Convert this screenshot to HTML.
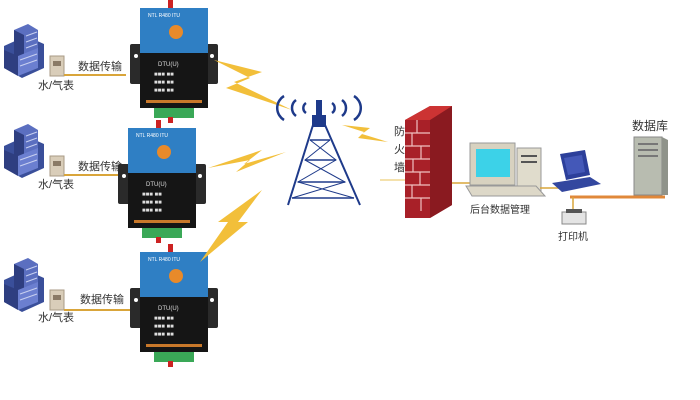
<!DOCTYPE html>
<html><head><meta charset="utf-8"><style>
body{margin:0;background:#fff;}
svg{display:block;font-family:"Liberation Sans","Noto Sans CJK SC",sans-serif;}
</style></head><body>
<svg width="700" height="400" viewBox="0 0 700 400" xmlns="http://www.w3.org/2000/svg">
<defs>
<g id="bld">
 <polygon points="0,18 22,8 40,16 40,40 18,50 0,40" fill="#3a4f9a"/>
 <polygon points="10,2 24,-4 34,2 34,36 20,42 10,36" fill="#5b6fc0"/>
 <polygon points="10,2 20,7 20,42 10,36" fill="#2e3e80"/>
 <polygon points="0,22 14,28 14,48 0,40" fill="#2e3e80"/>
 <polygon points="14,28 34,20 34,40 14,48" fill="#6b7fd0"/>
 <g stroke="#c8d0f0" stroke-width="1"><line x1="22" y1="8" x2="33" y2="4"/><line x1="22" y1="14" x2="33" y2="10"/><line x1="22" y1="20" x2="33" y2="16"/><line x1="16" y1="32" x2="33" y2="26"/><line x1="16" y1="38" x2="33" y2="32"/></g>
 <rect x="46" y="28" width="14" height="20" fill="#d9cdb9" stroke="#a89a85"/>
 <rect x="49" y="33" width="8" height="5" fill="#8a7a66"/>
</g>
<g id="dev">
 <rect x="-10" y="36" width="88" height="40" fill="#2a2a2a" rx="2"/>
 <circle cx="-4" cy="48" r="2" fill="#fff"/><circle cx="72" cy="48" r="2" fill="#fff"/>
 <rect x="28" y="-8" width="5" height="10" fill="#c22"/>
 <rect x="0" y="0" width="68" height="45" fill="#2f7fc4"/>
 <rect x="0" y="45" width="68" height="55" fill="#151515"/>
 <circle cx="36" cy="24" r="7" fill="#e88a2a"/>
 <text x="8" y="9" font-size="5" fill="#fff">NTL R480 ITU</text>
 <g fill="#ddd" font-size="6"><text x="18" y="58">DTU(U)</text><text x="14" y="68">■■■ ■■</text><text x="14" y="76">■■■ ■■</text><text x="14" y="84">■■■ ■■</text></g>
 <rect x="6" y="92" width="56" height="3" fill="#c8782a"/>
 <rect x="14" y="100" width="40" height="10" fill="#3aa857"/>
 <rect x="28" y="109" width="5" height="6" fill="#c22"/>
</g>
</defs>

<use href="#bld" x="4" y="28"/>
<line x1="64" y1="75" x2="126" y2="75" stroke="#d9a53a" stroke-width="2"/>
<text x="78" y="70" font-size="11" fill="#333">数据传输</text>
<text x="38" y="89" font-size="11" fill="#333">水/气表</text>

<use href="#bld" x="4" y="128"/>
<line x1="64" y1="175" x2="120" y2="175" stroke="#d9a53a" stroke-width="2"/>
<text x="78" y="170" font-size="11" fill="#333">数据传输</text>
<text x="38" y="188" font-size="11" fill="#333">水/气表</text>

<use href="#bld" x="4" y="262"/>
<line x1="64" y1="310" x2="130" y2="310" stroke="#d9a53a" stroke-width="2"/>
<text x="80" y="303" font-size="11" fill="#333">数据传输</text>
<text x="38" y="321" font-size="11" fill="#333">水/气表</text>

<use href="#dev" x="140" y="8"/>
<use href="#dev" x="128" y="128"/>
<use href="#dev" x="140" y="252"/>

<!-- bolts -->
<polygon points="214,60 262,72 234,82 292,110 226,88 250,78" fill="#f2bf3a"/>
<polygon points="208,168 262,150 244,164 286,152 236,172 250,160" fill="#f2bf3a"/>
<polygon points="262,190 238,222 248,222 200,262 228,222 218,222" fill="#f2bf3a"/>
<polygon points="342,125 370,128 362,134 388,142 358,138 364,132" fill="#f2bf3a"/>

<!-- tower -->
<g stroke="#1e3a8a" fill="none" stroke-width="2.5">
 <path d="M284,96 a14,14 0 0 0 0,24 M296,100 a10,10 0 0 0 0,16 M306,103 a6,6 0 0 0 0,10"/>
 <path d="M354,96 a14,14 0 0 1 0,24 M342,100 a10,10 0 0 1 0,16 M332,103 a6,6 0 0 1 0,10"/>
</g>
<g stroke="#1e3a8a" fill="none" stroke-width="2">
 <path d="M313,125 L288,205 M325,125 L360,205 M313,125 L325,125"/>
 <path d="M310,140 L330,140 M305,160 L336,160 M298,182 L345,182 M292,198 L354,198" stroke-width="1.5"/>
 <path d="M310,140 L336,160 L298,182 L354,198 M330,140 L305,160 L345,182 L292,198" stroke-width="1"/>
</g>
<rect x="312" y="115" width="14" height="12" fill="#1e3a8a"/>
<rect x="316" y="100" width="6" height="16" fill="#1e3a8a"/>

<!-- firewall -->
<text font-size="11" fill="#333"><tspan x="394" y="135">防</tspan><tspan x="394" y="153">火</tspan><tspan x="394" y="171">墙</tspan></text>
<line x1="380" y1="180" x2="405" y2="180" stroke="#e8c35a" stroke-width="1"/>
<polygon points="405,120 430,106 452,106 452,205 430,218 405,218" fill="#a82028"/>
<polygon points="430,120 452,106 452,205 430,218" fill="#8a1a20"/>
<polygon points="405,120 430,106 452,106 430,120" fill="#c33"/>
<g stroke="#f0c0c0" stroke-width="1.2">
 <line x1="405" y1="133" x2="430" y2="133"/><line x1="405" y1="146" x2="430" y2="146"/><line x1="405" y1="159" x2="430" y2="159"/><line x1="405" y1="172" x2="430" y2="172"/><line x1="405" y1="185" x2="430" y2="185"/><line x1="405" y1="198" x2="430" y2="198"/>
 <line x1="417" y1="120" x2="417" y2="133"/><line x1="412" y1="133" x2="412" y2="146"/><line x1="421" y1="146" x2="421" y2="159"/><line x1="413" y1="159" x2="413" y2="172"/><line x1="420" y1="172" x2="420" y2="185"/><line x1="412" y1="185" x2="412" y2="198"/><line x1="421" y1="198" x2="421" y2="211"/>
</g>
<line x1="452" y1="183" x2="470" y2="183" stroke="#d9a53a" stroke-width="1.5"/>

<rect x="470" y="143" width="45" height="42" fill="#d8d2c0" stroke="#999"/>
<rect x="476" y="149" width="34" height="28" fill="#3cd2e8"/>
<rect x="517" y="148" width="24" height="44" fill="#e0dccc" stroke="#999"/>
<rect x="521" y="155" width="16" height="2" fill="#555"/><rect x="521" y="161" width="16" height="2" fill="#555"/>
<polygon points="466,186 536,186 545,196 472,196" fill="#ddd8c8" stroke="#999"/>
<text x="470" y="213" font-size="10" fill="#333">后台数据管理</text>
<line x1="540" y1="188" x2="560" y2="188" stroke="#d9a53a" stroke-width="1.5"/>

<polygon points="560,154 585,150 590,175 566,180" fill="#2c3f9a"/>
<polygon points="564,158 582,155 585,172 568,175" fill="#4458b8"/>
<polygon points="552,183 590,177 601,184 562,192" fill="#33479f"/>
<line x1="570" y1="197" x2="665" y2="197" stroke="#e0883a" stroke-width="3"/>
<line x1="573" y1="197" x2="573" y2="214" stroke="#d9a53a" stroke-width="1.5"/>
<rect x="562" y="212" width="24" height="12" fill="#e4e4e4" stroke="#888"/>
<rect x="566" y="209" width="16" height="4" fill="#555"/>
<text x="558" y="240" font-size="10" fill="#333">打印机</text>

<text x="632" y="130" font-size="12" fill="#333">数据库</text>
<rect x="634" y="137" width="28" height="58" fill="#b8bcb0" stroke="#888"/>
<polygon points="662,137 668,140 668,195 662,195" fill="#8f938a"/>
<g fill="#777"><rect x="638" y="143" width="20" height="2"/><rect x="638" y="149" width="20" height="2"/><rect x="638" y="155" width="20" height="2"/></g>
</svg>
</body></html>
